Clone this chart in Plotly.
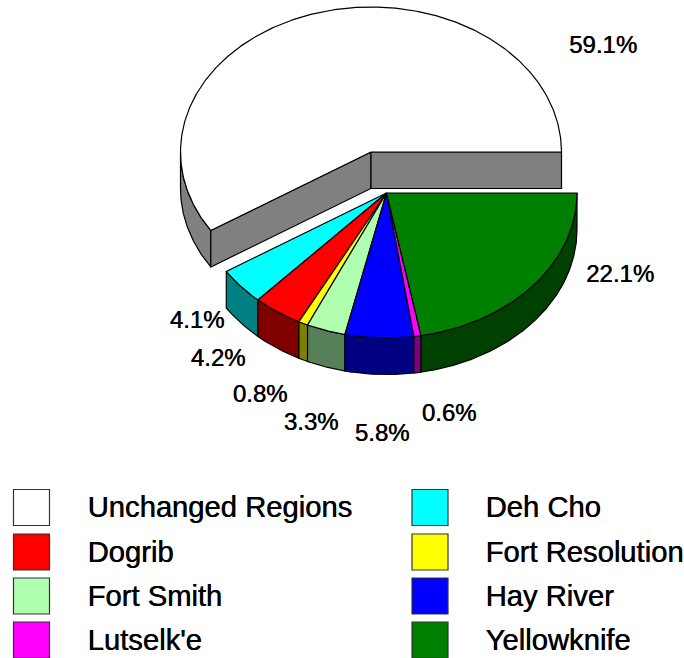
"""Pastel 3D con porcion separada, dibujado con trazas Scatter sobre ejes en pixeles."""

import numpy as np
import plotly.graph_objects as go

# Datos (orden antihorario desde el este)
REGIONES = ["Unchanged Regions", "Deh Cho", "Dogrib", "Fort Resolution",
            "Fort Smith", "Hay River", "Lutselk'e", "Yellowknife"]
PORCENTAJES = [59.1, 4.1, 4.2, 0.8, 3.3, 5.8, 0.6, 22.1]
COLORES = ["#FFFFFF", "#00FFFF", "#FF0000", "#FFFF00",
           "#B0FFB0", "#0000FF", "#FF00FF", "#008000"]
COLORES_LADO = ["#808080", "#008080", "#800000", "#808000",
                "#588058", "#000080", "#800080", "#004000"]

# Posicion de las etiquetas de porcentaje (pixeles)
ETIQUETAS_X = [603, 197, 218, 260, 311, 382, 449, 620]
ETIQUETAS_Y = [47, 322, 360, 396, 424, 435, 415, 276]

# Geometria del pastel
CENTRO = (386.5, 193)
CENTRO_SEPARADO = (371, 152)
RX, RY = 190.5, 145
ALTO = 36.5
FUENTE = "Liberation Sans"
SOMBRA = "0.5px 0 0 #000000"


def arco(c, a0, a1, dy=0.0):
    """Puntos de la elipse entre dos angulos (grados, antihorario)."""
    t = np.radians(np.linspace(a0, a1, max(int(abs(a1 - a0) * 2), 2) + 1))
    return c[0] + RX * np.cos(t), c[1] - RY * np.sin(t) + dy


def poligono(fig, x, y, color):
    fig.add_trace(go.Scatter(
        x=np.append(x, x[0]), y=np.append(y, y[0]),
        mode="lines", fill="toself", fillcolor=color,
        line=dict(color="#000000", width=1.2),
        hoverinfo="skip", showlegend=False
    ))


def pared(fig, c, a0, a1, color):
    """Pared exterior de una porcion."""
    x0, y0 = arco(c, a0, a1)
    x1, y1 = arco(c, a0, a1, ALTO)
    poligono(fig, np.r_[x0, x1[::-1]], np.r_[y0, y1[::-1]], color)


def cara_radial(fig, c, a, color):
    """Cara de corte entre el centro y el borde."""
    x, y = arco(c, a, a + 0.001)
    px, py = x[0], y[0]
    poligono(fig, np.array([c[0], px, px, c[0]]),
             np.array([c[1], py, py + ALTO, c[1] + ALTO]), color)


def tapa(fig, c, a0, a1, color):
    x, y = arco(c, a0, a1)
    poligono(fig, np.r_[c[0], x], np.r_[c[1], y], color)


fig = go.Figure()

limites = np.r_[0, np.cumsum(PORCENTAJES)] * 3.6

# Porcion separada (Unchanged Regions)
a0, a1 = limites[0], limites[1]
pared(fig, CENTRO_SEPARADO, 180, a1, COLORES_LADO[0])
cara_radial(fig, CENTRO_SEPARADO, a1, COLORES_LADO[0])
cara_radial(fig, CENTRO_SEPARADO, a0, COLORES_LADO[0])
tapa(fig, CENTRO_SEPARADO, a0, a1, COLORES[0])

# Resto del pastel: paredes primero, tapas despues
for i in range(1, len(PORCENTAJES)):
    pared(fig, CENTRO, limites[i], limites[i + 1], COLORES_LADO[i])
for i in range(1, len(PORCENTAJES)):
    tapa(fig, CENTRO, limites[i], limites[i + 1], COLORES[i])

# Etiquetas de porcentaje
fig.add_trace(go.Scatter(
    x=ETIQUETAS_X, y=ETIQUETAS_Y, mode="text",
    text=[f"{p:.1f}%" for p in PORCENTAJES],
    textposition="middle center",
    textfont=dict(family=FUENTE, size=24, color="#000000", shadow=SOMBRA),
    hoverinfo="skip", showlegend=False
))

# Leyenda en dos columnas
LEYENDA_FILAS = [507.5, 552, 596, 640]
LEYENDA_CUADRO_X = [31.5, 430]
LEYENDA_TEXTO_X = [87.5, 485.5]
for i, (nombre, color) in enumerate(zip(REGIONES, COLORES)):
    col, fila = i % 2, i // 2
    fig.add_trace(go.Scatter(
        x=[LEYENDA_CUADRO_X[col]], y=[LEYENDA_FILAS[fila]], mode="markers",
        marker=dict(symbol="square", size=36, color=color,
                    line=dict(color="#333333", width=1.2)),
        hoverinfo="skip", showlegend=False
    ))
    fig.add_trace(go.Scatter(
        x=[LEYENDA_TEXTO_X[col]], y=[LEYENDA_FILAS[fila] + 2.5], mode="text",
        text=[nombre], textposition="middle right",
        textfont=dict(family=FUENTE, size=29.2, color="#000000", shadow=SOMBRA),
        hoverinfo="skip", showlegend=False
    ))

fig.update_layout(
    width=684, height=658,
    margin=dict(l=0, r=0, t=0, b=0),
    paper_bgcolor="#FFFFFF", plot_bgcolor="#FFFFFF",
    xaxis=dict(range=[0, 684], visible=False, fixedrange=True),
    yaxis=dict(range=[658, 0], visible=False, fixedrange=True),
    showlegend=False
)

fig.write_html(
    "out.html",
    config={"displayModeBar": False},
    post_script="document.body.style.margin='0';document.body.style.overflow='hidden';"
)
